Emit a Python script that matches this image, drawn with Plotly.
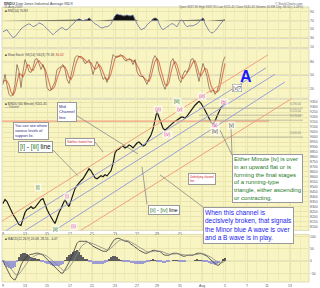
import plotly.graph_objects as go

W, H = 320, 288

# ---------------- data ----------------
date_pos = [0, 11, 22, 33.5, 44.5, 56, 67, 77, 88.5, 99.5, 111, 122, 132, 143.5]
date_lbl = ["9", "13", "15", "17", "21", "23", "27", "29", "31", "Aug", "5", "7", "11", "13"]

close = [8330, 8370, 8350, 8300, 8260, 8220, 8190, 8160, 8120, 8110,
         8180, 8240, 8270, 8280, 8300, 8280, 8290, 8320, 8340, 8370,
         8380, 8320, 8270, 8230, 8190, 8160, 8130, 8190, 8240, 8280,
         8320, 8370, 8330, 8300, 8360, 8430, 8480, 8510, 8540, 8560,
         8580, 8610, 8640, 8680, 8660, 8620, 8590, 8580, 8600, 8610,
         8600, 8620, 8610, 8630, 8660, 8730, 8840, 8870, 8880, 8900,
         8910, 8890, 8900, 8920, 8910, 8890, 8920, 8940, 8950, 8930,
         8910, 8920, 8950, 8980, 9020, 9080, 9180, 9260, 9200, 9140,
         9090, 9070, 9090, 9110, 9130, 9150, 9160, 9170, 9190, 9200,
         9200, 9190, 9210, 9240, 9270, 9300, 9320, 9340, 9360, 9340,
         9310, 9270, 9230, 9190, 9150, 9130, 9160, 9210, 9260, 9300,
         9320, 9330]

rsi = [44.3, 46.6, 48.9, 42.0, 35.1, 30.6, 32.9, 37.4, 44.3, 51.1,
       55.7, 58.0, 60.3, 62.6, 60.3, 55.7, 58.0, 60.3, 64.9, 62.6,
       60.3, 55.7, 51.1, 44.3, 39.7, 37.4, 42.0, 46.6, 51.1, 53.4,
       53.4, 48.9, 48.9, 53.4, 58.0, 60.3, 67.1, 71.7, 74.0, 71.7,
       69.4, 71.7, 71.7, 76.3, 71.7, 64.9, 62.6, 60.3, 55.7, 53.4,
       53.4, 55.7, 55.7, 58.0, 62.6, 71.7, 80.9, 85.4, 83.1, 83.1,
       80.9, 80.9, 83.1, 80.9, 80.9, 83.1, 71.7, 62.6, 55.7, 48.9,
       51.1, 53.4, 60.3, 64.9, 69.4, 74.0, 76.3, 74.0, 62.6, 53.4,
       48.9, 53.4, 55.7, 58.0, 62.6, 62.6, 58.0, 55.7, 64.9, 71.7,
       69.4, 60.3, 55.7, 58.0, 58.0, 58.0, 60.3, 62.6, 67.1, 71.7,
       76.3, 62.6, 53.4, 46.6, 42.0, 42.0, 46.6, 51.1, 58.0, 64.9,
       69.4, 71.7]

stoch_k = [28.9, 51.1, 26.7, 6.7, 2.2, 6.7, 28.9, 73.3, 57.8, 22.2,
           57.8, 84.4, 73.3, 57.8, 55.6, 66.7, 84.4, 86.7, 75.6, 62.2,
           73.3, 57.8, 22.2, 15.6, 15.6, 26.7, 35.6, 62.2, 66.7, 68.9,
           73.3, 62.2, 40.0, 31.1, 48.9, 66.7, 88.9, 93.3, 91.1, 88.9,
           84.4, 75.6, 77.8, 84.4, 71.1, 51.1, 66.7, 80.0, 71.1, 53.3,
           40.0, 44.4, 33.3, 48.9, 75.6, 95.6, 91.1, 88.9, 93.3, 95.6,
           88.9, 82.2, 82.2, 86.7, 84.4, 73.3, 84.4, 57.8, 48.9, 46.7,
           46.7, 35.6, 28.9, 42.2, 66.7, 84.4, 93.3, 84.4, 57.8, 40.0,
           28.9, 17.8, 31.1, 53.3, 80.0, 86.7, 73.3, 57.8, 40.0, 33.3,
           51.1, 60.0, 55.6, 66.7, 84.4, 86.7, 73.3, 51.1, 35.6, 57.8,
           75.6, 62.2, 46.7, 22.2, 11.1, 17.8, 6.7, 13.3, 28.9, 55.6,
           80.0, 91.1]

stoch_d = [35, 38, 36, 28, 12, 5, 13, 36, 53, 51,
           46, 55, 72, 72, 62, 60, 69, 79, 82, 75,
           70, 64, 51, 32, 18, 19, 26, 42, 55, 66,
           70, 68, 59, 45, 40, 49, 68, 83, 91, 91,
           88, 83, 79, 79, 78, 69, 63, 66, 73, 68,
           55, 46, 39, 42, 53, 73, 87, 92, 91, 93,
           93, 89, 84, 84, 84, 81, 81, 72, 64, 51,
           47, 43, 37, 36, 46, 64, 81, 87, 79, 61,
           42, 29, 26, 34, 55, 73, 80, 73, 57, 44,
           42, 48, 56, 61, 69, 79, 82, 70, 53, 48,
           56, 65, 62, 45, 27, 17, 12, 12, 16, 33,
           55, 76]

macd = [0, -16, -32, -48, -64, -72, -76, -60, -36, -16,
        0, 12, 20, 24, 28, 28, 32, 32, 32, 28,
        24, 16, 8, 0, -8, -20, -28, -36, -44, -48,
        -48, -36, -20, -4, 12, 32, 52, 72, 80, 80,
        80, 80, 80, 72, 68, 60, 56, 52, 48, 44,
        40, 40, 40, 52, 68, 80, 88, 92, 92, 88,
        84, 80, 80, 76, 68, 64, 56, 52, 44, 40,
        36, 32, 32, 36, 40, 44, 44, 40, 40, 36,
        28, 24, 24, 24, 28, 32, 32, 32, 28, 24,
        20, 20, 24, 24, 24, 24, 28, 32, 32, 32,
        28, 24, 20, 12, 4, -4, -12, -16, -16, -8,
        4, 12]

signal = [4, 0, -8, -18, -30, -42, -52, -56, -52, -42,
          -30, -18, -6, 4, 12, 18, 22, 26, 28, 29,
          28, 25, 20, 14, 8, 1, -7, -15, -23, -31,
          -37, -38, -34, -26, -16, -3, 13, 30, 46, 58,
          66, 72, 76, 76, 74, 71, 67, 63, 59, 55,
          51, 48, 45, 46, 52, 60, 69, 77, 83, 86,
          86, 85, 83, 81, 77, 73, 68, 63, 57, 52,
          47, 42, 38, 37, 37, 39, 41, 41, 41, 40,
          37, 33, 30, 28, 28, 29, 30, 31, 30, 28,
          26, 24, 24, 24, 24, 24, 25, 27, 29, 30,
          30, 28, 25, 21, 16, 10, 4, -2, -7, -8,
          -5, 0]

support_gray = [9290, 9220, 9170, 9000]
support_gray_lbl = ["9,290.00", "9,220.00", "9,170.00", "9,000.00"]
support_salmon = 9160

# channel lines: (bar0, price0, bar1, price1, colour)
channels = [
    (-1.5, 8140, 132.5, 9828, "#f0a080"),
    (-1.5, 8020, 131.5, 9696, "#9aa0d8"),
    (-1.5, 7900, 136.0, 9632, "#9aa0d8"),
    (13.5, 7900, 141.0, 9555, "#9aa0d8"),
    (28.5, 7930, 144.5, 9390, "#f0a080"),
]

n = min(len(close), len(rsi), len(stoch_k), len(stoch_d), len(macd), len(signal))
bars = list(range(n))
hist = [macd[i] - signal[i] for i in range(n)]

# ---------------- helpers ----------------
def pxx(x):
    return x / W

def pyy(y):
    return 1 - y / H

BG = "#f8f5c2"
GRID = "#e9e5ad"
XDOM = [2 / W, 309 / W]
XR = [-0.5, 153]

fig = go.Figure()

# RSI panel (axis 2)
fig.add_trace(go.Scatter(x=bars, y=[70] * n, mode="lines", line=dict(width=0, color="rgba(0,0,0,0)"),
                         xaxis="x2", yaxis="y2", hoverinfo="skip", showlegend=False))
fig.add_trace(go.Scatter(x=bars, y=[max(v, 70) for v in rsi[:n]], mode="lines",
                         line=dict(width=0, color="rgba(0,0,0,0)"), fill="tonexty", fillcolor="#111111",
                         xaxis="x2", yaxis="y2", hoverinfo="skip", showlegend=False))
fig.add_trace(go.Scatter(x=bars, y=rsi[:n], mode="lines", line=dict(width=0.8, color="#6a72aa"),
                         xaxis="x2", yaxis="y2", showlegend=False))

# Stochastic panel (axis 3)
fig.add_trace(go.Scatter(x=bars, y=stoch_d[:n], mode="lines", line=dict(width=1.1, color="#e07a55"),
                         xaxis="x3", yaxis="y3", showlegend=False))
fig.add_trace(go.Scatter(x=bars, y=stoch_k[:n], mode="lines", line=dict(width=0.6, color="#6b3a30"),
                         xaxis="x3", yaxis="y3", showlegend=False))

# price (axis 1)
fig.add_trace(go.Scatter(x=bars, y=close[:n], mode="lines", line=dict(width=1.2, color="#1a1a1a"),
                         xaxis="x", yaxis="y", showlegend=False))

# MACD (axis 4)
fig.add_trace(go.Bar(x=bars, y=hist, width=1.0,
                     marker=dict(color=["#5e5e5e" if h >= 0 else "#9c9cd2" for h in hist], line=dict(width=0)),
                     xaxis="x4", yaxis="y4", showlegend=False))
fig.add_trace(go.Scatter(x=bars, y=macd[:n], mode="lines", line=dict(width=0.8, color="#3a3a3a"),
                         xaxis="x4", yaxis="y4", showlegend=False))
fig.add_trace(go.Scatter(x=bars, y=signal[:n], mode="lines", line=dict(width=0.8, color="#8a8a8a"),
                         xaxis="x4", yaxis="y4", showlegend=False))

shapes = []
# panel backgrounds
for (y0, y1) in [(7, 48), (49, 99), (100, 232), (236, 284)]:
    shapes.append(dict(type="rect", xref="paper", yref="paper", x0=XDOM[0], x1=XDOM[1],
                       y0=pyy(y1), y1=pyy(y0), fillcolor=BG, line=dict(color="#c9c6a2", width=0.6),
                       layer="below"))

# reference lines
for lv in [70, 30]:
    shapes.append(dict(type="line", xref="x2 domain", yref="y2", x0=0, x1=1, y0=lv, y1=lv,
                       line=dict(color="#c2bfcf", width=1.2), layer="below"))
for lv in [80, 50, 20]:
    shapes.append(dict(type="line", xref="x3 domain", yref="y3", x0=0, x1=1, y0=lv, y1=lv,
                       line=dict(color="#c2bfcf", width=1.2), layer="below"))
shapes.append(dict(type="line", xref="x4 domain", yref="y4", x0=0, x1=1, y0=0, y1=0,
                   line=dict(color="#b8b8c8", width=0.8), layer="below"))

# support lines
shapes.append(dict(type="line", xref="x", yref="y", x0=-0.5, x1=133, y0=support_salmon, y1=support_salmon,
                   line=dict(color="#f2a080", width=1.2)))
for lv in support_gray:
    shapes.append(dict(type="line", xref="x", yref="y", x0=98, x1=150, y0=lv, y1=lv,
                       line=dict(color="#b0ad98", width=0.8)))
# channel lines
for (b0, p0, b1, p1, c) in channels:
    shapes.append(dict(type="line", xref="x", yref="y", x0=b0, x1=b1, y0=p0, y1=p1,
                       line=dict(color=c, width=1.0)))

# leader lines (pixel coords of the overlay)
leaders = [((76, 116), (138, 155)), ((50, 148), (78, 177)), ((95, 143), (103, 153)),
           ((232, 156), (220, 131)), ((232, 156), (231, 128)), ((205, 210), (160, 176)),
           ((147, 206), (142, 168))]
for (a, b) in leaders:
    shapes.append(dict(type="line", xref="paper", yref="paper", x0=pxx(a[0]), y0=pyy(a[1]),
                       x1=pxx(b[0]), y1=pyy(b[1]), line=dict(color="#8a8a8a", width=0.8)))

ann = []

def txt(x, y, s, size=4, color="#555555", xanchor="left", yanchor="top", **kw):
    d = dict(x=pxx(x), y=pyy(y), xref="paper", yref="paper", text=s, showarrow=False,
             xanchor=xanchor, yanchor=yanchor, font=dict(size=size, color=color, family="Arial"))
    d.update(kw)
    ann.append(d)

def box(x, y, s, size, color):
    txt(x, y, s, size=size, color=color, bgcolor="white", bordercolor="#9a9a9a", borderwidth=1,
        borderpad=1, align="left")

# support level labels
for lv, lb in zip(support_gray, support_gray_lbl):
    ann.append(dict(x=150, y=lv, xref="x", yref="y", text=lb, showarrow=False, xanchor="right",
                    yanchor="bottom", font=dict(size=2.8, color="#888", family="Arial")))

# header texts
txt(2, 0, "<b>$INDU</b> Dow Jones Industrial Average INDX", size=3.6, color="#444")
txt(2, 3.5, "11-Aug-2009", size=3.2, color="#666")
txt(305, 0, "© StockCharts.com", size=3.2, color="#666", xanchor="right")
txt(305, 3.5, "Open 9337.95 High 9337.95 Low 9215.41 Close 9241.45 Volume 26.8M Chg -96.50 (-1.03%)",
    size=3.0, color="#666", xanchor="right")
txt(3, 7.5, "■ RSI(14) 70.83", size=3.2, color="#444")
txt(3, 51, "■ Slow Stoch %K(14) %D(3) 79.18, <span style='color:#d04040'>80.62</span>", size=3.2, color="#444")
txt(3, 100.5, "■ $INDU (60 Minute) 9241.45", size=3.2, color="#444")
txt(3, 104, "— Volume", size=3.0, color="#666")
txt(3, 237, "■ MACD(12,26,9) 24.08, 28.55, -4.47", size=3.2, color="#444")

# wave labels
pink = "#e040b0"
green = "#1e7a1e"
for (x, y, s, c) in [(38, 189, "[i]", green), (55, 231, "[ii]", green), (67, 198, "(i)", pink),
                     (73, 228, "(ii)", pink), (158, 110, "(iii)", pink), (167, 135, "(iv)", pink),
                     (180, 110, "(v)", pink), (177, 102, "[iii]", green), (202, 97, "(iii)", pink),
                     (215, 126, "(a)", pink), (215, 132, "[iv]", "#333"), (224, 103, "(b)", pink),
                     (231, 126, "[v]", "#333")]:
    txt(x, y, s, size=4.5, color=c, xanchor="center", yanchor="middle", bgcolor="rgba(255,255,255,0.6)")

txt(237, 89, "[v]?", size=5, color="#333", xanchor="center", yanchor="middle", bgcolor="white",
    bordercolor="#999", borderwidth=0.6, borderpad=0.5)
txt(246, 77, "<b>A</b>", size=16, color="#1a1aff", xanchor="center", yanchor="middle")

# text boxes
box(57, 103, "Mid<br>Channel<br>line", 4.2, "#1f2a80")
box(13, 123, "You can see where<br>various levels of<br>support lie.", 3.8, "#1f2a80")
box(18, 142, "<span style='color:#1e7a1e'>[i]</span> - <span style='color:#1e7a1e'>[iii]</span> line", 6.5, "#111")
box(65, 139, "Sideline channel line", 2.8, "#d02020")
box(188, 174, "Underlying channel<br>line", 2.8, "#d02020")
box(148, 206, "<span style='color:#1e7a1e'>[ii]</span> - <span style='color:#1e7a1e'>[iv]</span> line", 5.5, "#111")
box(232, 155, "Either Minute [iv] is over<br>in an upward flat or is<br>forming the final stages<br>"
              "of a running-type<br>triangle, either ascending<br>or contracting.", 6.0, "#1e7a1e")
box(203, 208, "When this channel is<br>decisively broken, that signals<br>the Minor blue A wave is over<br>"
              "and a B wave is in play.", 6.5, "#1a1aee")

axis_common = dict(range=XR, domain=XDOM, showgrid=True, gridcolor=GRID, gridwidth=0.6,
                   tickvals=date_pos, zeroline=False, showline=False,
                   ticks="", tickfont=dict(size=3.5, color="#555", family="Arial"),
                   minor=dict(dtick=5.5, showgrid=True, gridcolor="#efebb8", gridwidth=0.4))
yax_common = dict(side="right", showgrid=True, gridcolor=GRID, gridwidth=0.5, zeroline=False,
                  ticks="", tickfont=dict(size=3.4, color="#555", family="Arial"), showline=False)

main_lbl = [l if i < 9 else "" for i, l in enumerate(date_lbl)]

fig.update_layout(
    width=W, height=H, margin=dict(l=0, r=0, t=0, b=0),
    paper_bgcolor="white", plot_bgcolor="rgba(0,0,0,0)", showlegend=False, bargap=0,
    xaxis=dict(axis_common, anchor="y", showticklabels=True, ticktext=main_lbl),
    yaxis=dict(yax_common, domain=[pyy(232), pyy(40)], range=[8060, 9980], anchor="x",
               tickvals=list(range(8100, 9400, 50)), ticktext=[str(v) for v in range(8100, 9400, 50)]),
    xaxis2=dict(axis_common, anchor="y2", showticklabels=False, ticktext=date_lbl),
    yaxis2=dict(yax_common, domain=[pyy(48), pyy(7)], range=[7.7, 101.4], anchor="x2",
                tickvals=[10, 30, 50, 70, 90]),
    xaxis3=dict(axis_common, anchor="y3", showticklabels=False, ticktext=date_lbl),
    yaxis3=dict(yax_common, domain=[pyy(99), pyy(49)], range=[-2.2, 108.9], anchor="x3",
                tickvals=[20, 50, 80]),
    xaxis4=dict(axis_common, anchor="y4", showticklabels=True, ticktext=date_lbl),
    yaxis4=dict(yax_common, domain=[pyy(284), pyy(236)], range=[-84, 108], anchor="x4",
                tickvals=[-50, 0, 50, 100]),
    shapes=shapes, annotations=ann,
)

fig.write_html("out.html")
